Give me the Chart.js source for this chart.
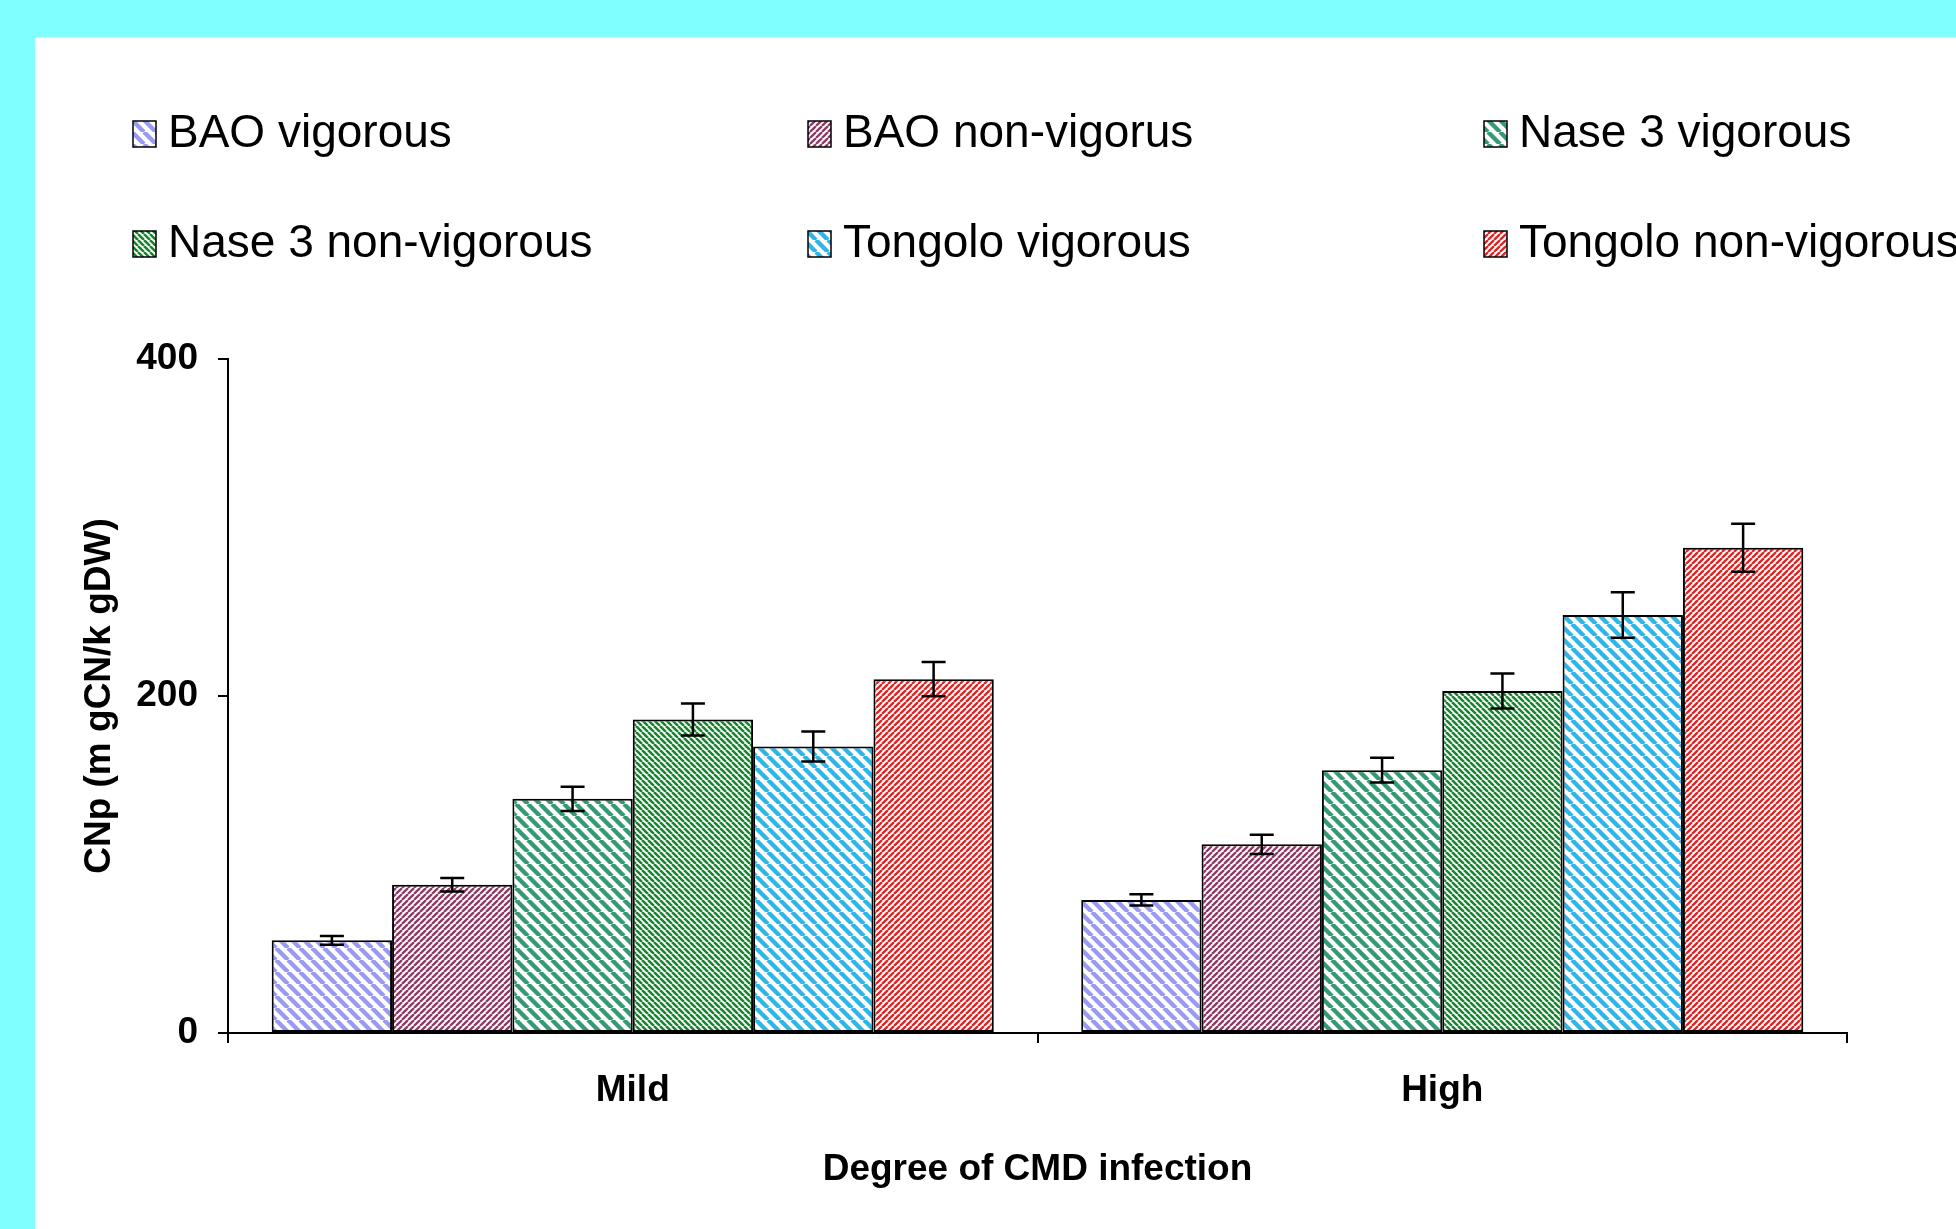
<!DOCTYPE html>
<html>
<head>
<meta charset="utf-8">
<script src="https://cdn.jsdelivr.net/npm/chart.js@4/dist/chart.umd.min.js"></script>
<style>
html,body{margin:0;padding:0;width:1956px;height:1229px;overflow:hidden;background:#7fffff;}
#panel{position:absolute;left:35px;top:37px;right:0;bottom:0;background:#ffffff;}
#c{position:absolute;left:0;top:0;}
</style>
</head>
<body>
<div id="panel"></div>
<canvas id="c" width="1956" height="1229"></canvas>
<script>
// ---- data ----
const categories = ['Mild', 'High'];
const seriesNames = ['BAO vigorous', 'BAO non-vigorus', 'Nase 3 vigorous',
                     'Nase 3 non-vigorous', 'Tongolo vigorous', 'Tongolo non-vigorous'];
const baoVigorous        = [55, 79];
const baoNonVigorous     = [88, 112];
const nase3Vigorous      = [139, 156];
const nase3NonVigorous   = [186, 203];
const tongoloVigorous    = [170, 248];
const tongoloNonVigorous = [210, 288];
const baoVigorousErr        = [2.6, 3.4];
const baoNonVigorousErr     = [4.0, 5.7];
const nase3VigorousErr      = [7.2, 7.3];
const nase3NonVigorousErr   = [9.5, 10.4];
const tongoloVigorousErr    = [8.9, 13.5];
const tongoloNonVigorousErr = [10.2, 14.2];
const yTicks = [0, 200, 400];
const xTitle = 'Degree of CMD infection';
const yTitle = 'CNp (m gCN/k gDW)';

// ---- styles ----
const FONT = "'Liberation Sans', Arial, Helvetica, sans-serif";
const ctx = document.getElementById('c').getContext('2d');

function hatch(color, period, width, dir) {
  const c = document.createElement('canvas');
  c.width = period; c.height = period;
  const g = c.getContext('2d');
  g.fillStyle = '#ffffff';
  g.fillRect(0, 0, period, period);
  g.strokeStyle = color;
  g.lineWidth = width;
  g.beginPath();
  for (let k = -1; k <= 1; k++) {
    if (dir === 'down') { g.moveTo(k * period, 0); g.lineTo(k * period + period, period); }
    else { g.moveTo(k * period, period); g.lineTo(k * period + period, 0); }
  }
  g.stroke();
  return ctx.createPattern(c, 'repeat');
}

const fills = [
  hatch('#9a9af2', 12, 4.4, 'down'),
  hatch('#8e3a66', 6, 2.3, 'up'),
  hatch('#359a74', 12, 4.4, 'down'),
  hatch('#16862c', 6, 2.5, 'down'),
  hatch('#30b6e6', 12, 4.4, 'down'),
  hatch('#dc2626', 6, 2.3, 'up')
];
const values = [baoVigorous, baoNonVigorous, nase3Vigorous, nase3NonVigorous, tongoloVigorous, tongoloNonVigorous];
const errors = [baoVigorousErr, baoNonVigorousErr, nase3VigorousErr, nase3NonVigorousErr, tongoloVigorousErr, tongoloNonVigorousErr];

const datasets = seriesNames.map((name, i) => ({
  label: name,
  data: values[i],
  errors: errors[i],
  backgroundColor: fills[i],
  borderColor: '#000000',
  borderWidth: 2,
  borderSkipped: false,
  categoryPercentage: 0.892,
  barPercentage: 1.0
}));

const errorBarPlugin = {
  id: 'errorBars',
  afterDatasetsDraw(chart) {
    const c = chart.ctx, ys = chart.scales.y;
    chart.data.datasets.forEach((ds, i) => {
      const meta = chart.getDatasetMeta(i);
      meta.data.forEach((bar, j) => {
        const v = ds.data[j], e = ds.errors[j];
        const x = bar.x;
        const top = ys.getPixelForValue(v + e), bot = ys.getPixelForValue(v - e);
        c.save();
        c.strokeStyle = '#000'; c.lineWidth = 2.5;
        c.beginPath();
        c.moveTo(x, top); c.lineTo(x, bot);
        c.moveTo(x - 12, top); c.lineTo(x + 12, top);
        c.moveTo(x - 12, bot); c.lineTo(x + 12, bot);
        c.stroke();
        c.restore();
      });
    });
  }
};

const legendPlugin = {
  id: 'gridLegend',
  afterDraw(chart) {
    const c = chart.ctx;
    const colX = [133, 808, 1484];
    const rowBase = [147, 257];
    c.save();
    c.font = '46px ' + FONT;
    c.textBaseline = 'alphabetic';
    chart.data.datasets.forEach((ds, i) => {
      const bx = colX[i % 3], by = rowBase[Math.floor(i / 3)];
      c.fillStyle = ds.backgroundColor;
      c.fillRect(bx, by - 26, 23, 26);
      c.strokeStyle = '#000'; c.lineWidth = 1.5;
      c.strokeRect(bx, by - 26, 23, 26);
      c.fillStyle = '#000';
      c.fillText(ds.label, bx + 35, by);
    });
    c.restore();
  }
};

new Chart(ctx, {
  type: 'bar',
  data: { labels: categories, datasets },
  options: {
    responsive: false,
    devicePixelRatio: 1,
    animation: false,
    layout: { padding: { left: 40, top: 359, right: 109, bottom: 20 } },
    plugins: { legend: { display: false }, tooltip: { enabled: false } },
    scales: {
      x: {
        grid: { display: true, drawOnChartArea: false, drawTicks: true, tickLength: 10, color: '#000', lineWidth: 2, offset: true },
        border: { display: true, color: '#000', width: 2 },
        ticks: { color: '#000', font: { family: FONT, size: 37, weight: 'bold' }, padding: 26 },
        title: { display: true, text: xTitle, color: '#000', font: { family: FONT, size: 37, weight: 'bold' }, padding: { top: 0, bottom: 17 } },
        afterFit(s) { s.height = 176; }
      },
      y: {
        min: 0, max: 400,
        afterBuildTicks(s) { s.ticks = yTicks.map(v => ({ value: v })); },
        grid: { display: true, drawOnChartArea: false, drawTicks: true, tickLength: 10, color: '#000', lineWidth: 2 },
        border: { display: true, color: '#000', width: 2 },
        ticks: { color: '#000', font: { family: FONT, size: 37, weight: 'bold' }, padding: 20 },
        title: { display: true, text: yTitle, color: '#000', font: { family: FONT, size: 37, weight: 'bold' }, padding: { top: 38, bottom: 0 } },
        afterFit(s) { s.width = 188; }
      }
    }
  },
  plugins: [errorBarPlugin, legendPlugin]
});
</script>
</body>
</html>
